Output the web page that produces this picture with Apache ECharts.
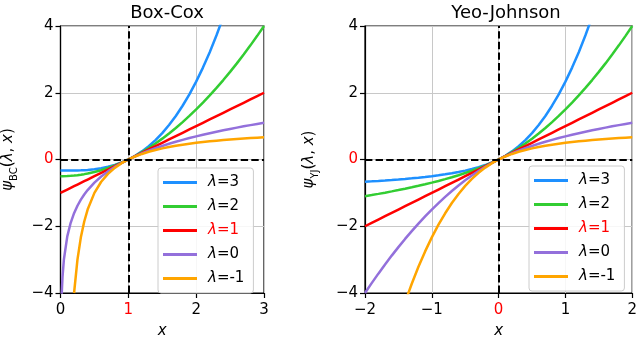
<!DOCTYPE html>
<html>
<head>
<meta charset="utf-8">
<script src="https://cdn.jsdelivr.net/npm/echarts@6/dist/echarts.min.js"></script>
<style>html,body{margin:0;padding:0;background:#fff}#main{width:640px;height:344px}</style>
</head>
<body>
<div id="main"></div>
<script>
// Box-Cox panel, x values
var xBC = [0, 0.018, 0.03, 0.05, 0.1, 0.15, 0.2, 0.25, 0.3, 0.35, 0.4,
  0.5, 0.6, 0.7, 0.8, 0.9, 1.0, 1.1, 1.2, 1.3, 1.4, 1.5, 1.6, 1.7, 1.8, 1.9,
  2.0, 2.1, 2.2, 2.3, 2.4, 2.5, 2.6, 2.7, 2.8, 2.9, 3.0];
var bc3 = [-0.3333, -0.3333, -0.3333, -0.3333, -0.333, -0.3322, -0.3307, -0.3281, -0.3243, -0.319, -0.312,
  -0.2917, -0.2613, -0.219, -0.1627, -0.0903, 0, 0.1103, 0.2427, 0.399, 0.5813, 0.7917, 1.032, 1.3043, 1.6107, 1.953,
  2.3333, 2.7537, 3.216, 3.7223, 4.2747, 4.875, 5.525, 6.228, 6.984, 7.796, 8.667];
var bc2 = [-0.5, -0.4998, -0.4996, -0.4988, -0.495, -0.4888, -0.48, -0.4688, -0.455, -0.4388, -0.42,
  -0.375, -0.32, -0.255, -0.18, -0.095, 0, 0.105, 0.22, 0.345, 0.48, 0.625, 0.78, 0.945, 1.12, 1.305,
  1.5, 1.705, 1.92, 2.145, 2.38, 2.625, 2.88, 3.145, 3.42, 3.705, 4.0];
var bc1 = [-1, -0.982, -0.97, -0.95, -0.9, -0.85, -0.8, -0.75, -0.7, -0.65, -0.6,
  -0.5, -0.4, -0.3, -0.2, -0.1, 0, 0.1, 0.2, 0.3, 0.4, 0.5, 0.6, 0.7, 0.8, 0.9,
  1.0, 1.1, 1.2, 1.3, 1.4, 1.5, 1.6, 1.7, 1.8, 1.9, 2.0];
var bc0 = [null, -4.017, -3.507, -2.996, -2.303, -1.897, -1.609, -1.386, -1.204, -1.05, -0.916,
  -0.693, -0.511, -0.357, -0.223, -0.105, 0, 0.0953, 0.1823, 0.2624, 0.3365, 0.4055, 0.47, 0.5306, 0.5878, 0.6419,
  0.6931, 0.7419, 0.7885, 0.8329, 0.8755, 0.9163, 0.9555, 0.9933, 1.0296, 1.0647, 1.0986];
var bcm1 = [null, null, null, null, null, null, -4, -3, -2.333, -1.857, -1.5,
  -1, -0.667, -0.429, -0.25, -0.111, 0, 0.0909, 0.1667, 0.2308, 0.2857, 0.3333, 0.375, 0.4118, 0.4444, 0.4737,
  0.5, 0.5238, 0.5455, 0.5652, 0.5833, 0.6, 0.6154, 0.6296, 0.6429, 0.6552, 0.6667];

// Yeo-Johnson panel, x values
var xYJ = [-2.0, -1.9, -1.8, -1.7, -1.6, -1.5, -1.4, -1.3, -1.2, -1.1, -1.0, -0.9, -0.8, -0.7, -0.6, -0.5, -0.4, -0.3, -0.2, -0.1,
  0, 0.1, 0.2, 0.3, 0.4, 0.5, 0.6, 0.7, 0.8, 0.9, 1.0, 1.1, 1.2, 1.3, 1.4, 1.5, 1.6, 1.7, 1.8, 1.9, 2.0];
var yj3 = [-0.6667, -0.6552, -0.6429, -0.6296, -0.6154, -0.6, -0.5833, -0.5652, -0.5455, -0.5238, -0.5, -0.4737, -0.4444, -0.4118, -0.375, -0.3333, -0.2857, -0.2308, -0.1667, -0.0909,
  0, 0.1103, 0.2427, 0.399, 0.5813, 0.7917, 1.032, 1.3043, 1.6107, 1.953, 2.3333, 2.7537, 3.216, 3.7223, 4.2747, 4.875, 5.525, 6.228, 6.984, 7.796, 8.667];
var yj2 = [-1.0986, -1.0647, -1.0296, -0.9933, -0.9555, -0.9163, -0.8755, -0.8329, -0.7885, -0.7419, -0.6931, -0.6419, -0.5878, -0.5306, -0.47, -0.4055, -0.3365, -0.2624, -0.1823, -0.0953,
  0, 0.105, 0.22, 0.345, 0.48, 0.625, 0.78, 0.945, 1.12, 1.305, 1.5, 1.705, 1.92, 2.145, 2.38, 2.625, 2.88, 3.145, 3.42, 3.705, 4.0];
var yj1 = [-2.0, -1.9, -1.8, -1.7, -1.6, -1.5, -1.4, -1.3, -1.2, -1.1, -1.0, -0.9, -0.8, -0.7, -0.6, -0.5, -0.4, -0.3, -0.2, -0.1,
  0, 0.1, 0.2, 0.3, 0.4, 0.5, 0.6, 0.7, 0.8, 0.9, 1.0, 1.1, 1.2, 1.3, 1.4, 1.5, 1.6, 1.7, 1.8, 1.9, 2.0];
var yj0 = [-4.0, -3.705, -3.42, -3.145, -2.88, -2.625, -2.38, -2.145, -1.92, -1.705, -1.5, -1.305, -1.12, -0.945, -0.78, -0.625, -0.48, -0.345, -0.22, -0.105,
  0, 0.0953, 0.1823, 0.2624, 0.3365, 0.4055, 0.47, 0.5306, 0.5878, 0.6419, 0.6931, 0.7419, 0.7885, 0.8329, 0.8755, 0.9163, 0.9555, 0.9933, 1.0296, 1.0647, 1.0986];
var yjm1 = [-8.667, -7.796, -6.984, -6.228, -5.525, -4.875, -4.2747, -3.7223, -3.216, -2.7537, -2.3333, -1.953, -1.6107, -1.3043, -1.032, -0.7917, -0.5813, -0.399, -0.2427, -0.1103,
  0, 0.0909, 0.1667, 0.2308, 0.2857, 0.3333, 0.375, 0.4118, 0.4444, 0.4737, 0.5, 0.5238, 0.5455, 0.5652, 0.5833, 0.6, 0.6154, 0.6296, 0.6429, 0.6552, 0.6667];

var lambdas = ['3', '2', '1', '0', '-1'];
var colors = ['#1E90FF', '#32CD32', '#FF0000', '#9370DB', '#FFA500'];
var titles = ['Box-Cox', 'Yeo-Johnson'];
var yTicksBC = [-4, -2, 0, 2, 4];

var FONT = 'DejaVu Sans';

function pairs(xs, ys) {
  var out = [];
  for (var i = 0; i < xs.length; i++) {
    if (ys[i] !== null) out.push([xs[i], ys[i]]);
  }
  return out;
}

function minus(v) {
  return String(v).replace('-', '\u2212');
}

var nameRich = {
  p: { fontFamily: FONT, fontSize: 15, fontStyle: 'italic', color: '#000', lineHeight: 22 },
  n: { fontFamily: FONT, fontSize: 15, color: '#000', lineHeight: 22 },
  s: { fontFamily: FONT, fontSize: 10, color: '#000', lineHeight: 12, verticalAlign: 'bottom' }
};

function xAxisOf(idx, min, max, redVal) {
  return {
    type: 'value', gridIndex: idx, min: min, max: max, interval: 1,
    name: 'x', nameLocation: 'middle', nameGap: 31,
    nameTextStyle: { fontFamily: FONT, fontSize: 15, fontStyle: 'italic', color: '#000' },
    axisLine: { show: true, onZero: false, lineStyle: { color: '#000', width: 1.2 } },
    axisTick: { show: true, length: 5, lineStyle: { color: '#000', width: 1.2 } },
    axisLabel: {
      fontFamily: FONT, fontSize: 15, margin: 10,
      formatter: minus,
      color: function (v) { return Number(v) === redVal ? '#FF0000' : '#000'; }
    },
    splitLine: { show: true, lineStyle: { color: '#c8c8c8', width: 1 } }
  };
}

function yAxisOf(idx, sub, gap) {
  return {
    type: 'value', gridIndex: idx, min: yTicksBC[0], max: yTicksBC[yTicksBC.length - 1], interval: 2,
    name: '{p|ψ}{s|' + sub + '}{n|(}{p|λ}{n|, }{p|x}{n|)}',
    nameLocation: 'middle', nameRotate: 90, nameGap: gap,
    nameTextStyle: { rich: nameRich },
    axisLine: { show: true, onZero: false, lineStyle: { color: '#000', width: 1.2 } },
    axisTick: { show: true, length: 5, lineStyle: { color: '#000', width: 1.2 } },
    axisLabel: {
      fontFamily: FONT, fontSize: 15, margin: 7,
      formatter: minus,
      color: function (v) { return Number(v) === 0 ? '#FF0000' : '#000'; }
    },
    splitLine: { show: true, lineStyle: { color: '#c8c8c8', width: 1 } }
  };
}

var dashStyle = { color: '#000', width: 2, type: [7.4, 3.2] };

function guide(idx, xv) {
  return {
    type: 'line', xAxisIndex: idx, yAxisIndex: idx, data: [], z: 5,
    markLine: {
      silent: true, symbol: 'none', label: { show: false },
      lineStyle: dashStyle,
      data: [{ yAxis: 0 }, { xAxis: xv }]
    }
  };
}

var bcSets = [bc3, bc2, bc1, bc0, bcm1];
var yjSets = [yj3, yj2, yj1, yj0, yjm1];

var series = [guide(0, 1), guide(1, 0)];
lambdas.forEach(function (l, i) {
  series.push({
    name: 'λ=' + l, type: 'line', xAxisIndex: 0, yAxisIndex: 0,
    data: pairs(xBC, bcSets[i]), showSymbol: false, clip: true, z: 3,
    lineStyle: { color: colors[i], width: 2.5 }, itemStyle: { color: colors[i] }
  });
  series.push({
    name: 'λ=' + l, type: 'line', xAxisIndex: 1, yAxisIndex: 1,
    data: pairs(xYJ, yjSets[i]), showSymbol: false, clip: true, z: 3,
    lineStyle: { color: colors[i], width: 2.5 }, itemStyle: { color: colors[i] }
  });
});

function legendOf(left, top) {
  return {
    left: left, top: top, orient: 'vertical',
    icon: 'rect', itemWidth: 34, itemHeight: 3, itemGap: 9,
    padding: [7, 9, 7, 5],
    backgroundColor: 'rgba(255,255,255,0.85)', borderColor: '#cccccc', borderWidth: 1, borderRadius: 3,
    selectedMode: false,
    data: lambdas.map(function (l) {
      return { name: 'λ=' + l, textStyle: { color: l === '1' ? '#FF0000' : '#000' } };
    }),
    formatter: function (name) { return '{l|λ}' + name.slice(1); },
    textStyle: {
      fontFamily: FONT, fontSize: 15, lineHeight: 14.5, padding: [0, 0, 0, 6],
      rich: { l: { fontFamily: FONT, fontSize: 15, fontStyle: 'italic' } }
    }
  };
}

var chart = echarts.init(document.getElementById('main'));
chart.setOption({
  animation: false,
  backgroundColor: '#fff',
  title: [
    { text: titles[0], left: 162, top: -1, textAlign: 'center', textStyle: { fontFamily: FONT, fontSize: 18, fontWeight: 'normal', color: '#000' } },
    { text: titles[1], left: 501, top: -1, textAlign: 'center', textStyle: { fontFamily: FONT, fontSize: 18, fontWeight: 'normal', color: '#000' } }
  ],
  grid: [
    { left: 59, top: 26, width: 205, height: 272, show: true, borderColor: '#000', borderWidth: 1.2, backgroundColor: 'transparent' },
    { left: 365, top: 26, width: 271, height: 272, show: true, borderColor: '#000', borderWidth: 1.2, backgroundColor: 'transparent' }
  ],
  xAxis: [xAxisOf(0, 0, 3, 1), xAxisOf(1, -2, 2, 0)],
  yAxis: [yAxisOf(0, 'BC', 41), yAxisOf(1, 'YJ', 45)],
  legend: [legendOf(158, 168), legendOf(529, 166)],
  series: series
});
</script>
</body>
</html>
